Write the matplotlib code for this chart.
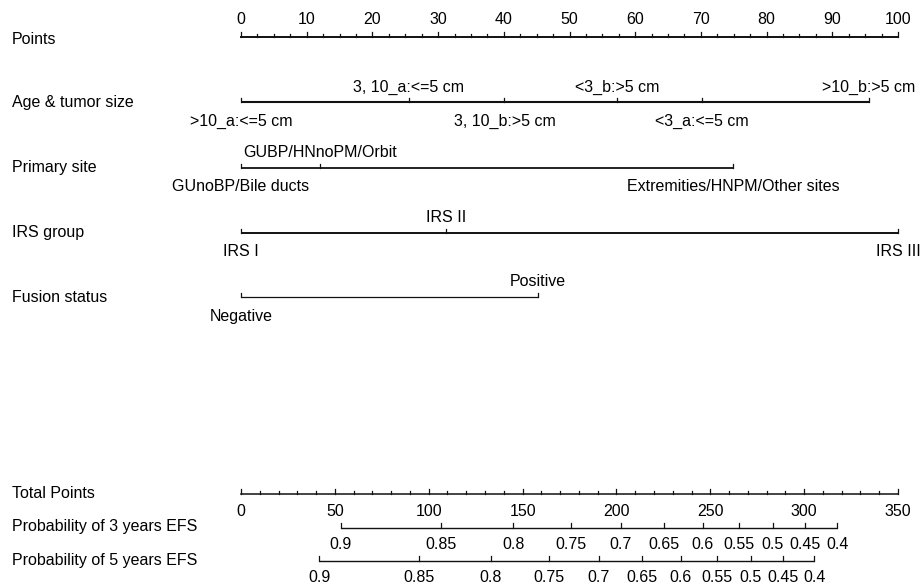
import numpy as np
import matplotlib.pyplot as plt

plt.rcParams['font.family'] = ['Liberation Sans', 'DejaVu Sans']

# nomogram data (points scale 0-100, total points 0-350)
points_ticks = list(range(0, 101, 10))
total_ticks = list(range(0, 351, 50))
total_max = 350

age_labels = ['>10_a:<=5 cm', '3, 10_a:<=5 cm', '3, 10_b:>5 cm',
              '<3_b:>5 cm', '<3_a:<=5 cm', '>10_b:>5 cm']
age_points = [0, 25.5, 40.1, 57.3, 70.2, 95.6]

site_labels = ['GUnoBP/Bile ducts', 'GUBP/HNnoPM/Orbit', 'Extremities/HNPM/Other sites']
site_points = [0, 12.0, 74.9]

irs_labels = ['IRS I', 'IRS II', 'IRS III']
irs_points = [0, 31.2, 100]

fusion_labels = ['Negative', 'Positive']
fusion_points = [0, 45.2]

prob_labels = ['0.9', '0.85', '0.8', '0.75', '0.7', '0.65', '0.6', '0.55', '0.5', '0.45', '0.4']
prob3_total = [53.1, 106.4, 145.1, 175.8, 202.3, 225.4, 246.0, 265.2, 283.3, 300.3, 317.7]
prob5_total = [41.7, 94.7, 133.0, 164.3, 190.6, 213.5, 234.3, 253.5, 271.6, 289.0, 305.5]

fig = plt.figure(figsize=(9.21, 5.86), dpi=100)
ax = fig.add_axes([0, 0, 1, 1])
px = 657 / 100.0  # pixels per point
ax.set_xlim(-241 / px, (921 - 241) / px)
ax.set_ylim(586, 0)
ax.axis('off')

fs = 11.5
lab_x = -229 / px
lc = '#111111'


def row_label(y, text):
    ax.text(lab_x, y, text, fontsize=fs, ha='left', va='center')


def scale(y, xs, ticklen=4, lw=1.2):
    ax.plot([min(xs), max(xs)], [y, y], color=lc, lw=lw, solid_capstyle='butt')
    for x in xs:
        ax.plot([x, x], [y, y - ticklen], color=lc, lw=0.9)


# Points
y = 37
row_label(39, 'Points')
ax.plot([0, 100], [y, y], color=lc, lw=1.4)
for v in np.arange(0, 101, 2.5):
    ln = 5 if v % 10 == 0 else 3
    ax.plot([v, v], [y, y - ln], color=lc, lw=0.9)
for v in points_ticks:
    ax.text(v, y - 17, str(v), fontsize=fs, ha='center', va='center')


def variable(y, name, labels, pts, lw=1.3):
    row_label(y, name)
    scale(y, pts, lw=lw)
    order = np.argsort(pts)
    for i, k in enumerate(order):
        dy = 19 if i % 2 == 0 else -15
        ax.text(pts[k], y + dy, labels[k], fontsize=fs, ha='center', va='center')


variable(102, 'Age & tumor size', age_labels, age_points, lw=1.5)
variable(167.5, 'Primary site', site_labels, site_points)
variable(232.5, 'IRS group', irs_labels, irs_points, lw=1.4)
variable(297, 'Fusion status', fusion_labels, fusion_points, lw=0.9)

# Total points
y = 494
row_label(493, 'Total Points')
to_pts = 100.0 / total_max
ax.plot([0, 100], [y, y], color=lc, lw=1.1)
for v in np.arange(0, total_max + 1, 10):
    ln = 5 if v % 50 == 0 else 3
    ax.plot([v * to_pts] * 2, [y, y - ln], color=lc, lw=0.9)
for v in total_ticks:
    ax.text(v * to_pts, y + 18, str(v), fontsize=fs, ha='center', va='center')

# Probability axes
for y, name, tot in [(527.5, 'Probability of 3 years EFS', prob3_total),
                     (561, 'Probability of 5 years EFS', prob5_total)]:
    row_label(y - 1, name)
    xs = [t * to_pts for t in tot]
    scale(y, xs, ticklen=5, lw=1.0)
    for x, t in zip(xs, prob_labels):
        ax.text(x, y + 17, t, fontsize=fs, ha='center', va='center')

fig.savefig('out.png', dpi=100, facecolor='white')
